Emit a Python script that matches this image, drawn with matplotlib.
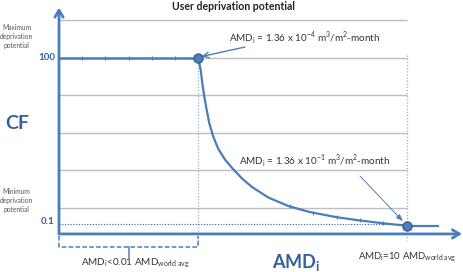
import numpy as np
import matplotlib
matplotlib.use("Agg")
import matplotlib.pyplot as plt

plt.rcParams['font.family'] = ['Lato', 'DejaVu Sans']
plt.rcParams['mathtext.fontset'] = 'custom'
plt.rcParams['mathtext.rm'] = 'Lato'

# ---- data (schematic units) ----
# plateau at maximum deprivation potential (CF = 100)
plateau_x = [0.0, 0.667, 1.333, 2.0, 2.667, 3.333, 4.0]
plateau_y = [4.0, 4.0, 4.0, 4.0, 4.0, 4.0, 4.0]
# decreasing part of the curve
curve_x = [4.0, 4.072, 4.118, 4.175, 4.244, 4.319, 4.434, 4.578, 4.770, 5.0, 5.259,
           5.546, 6.014, 6.589, 7.164, 7.644, 7.989, 8.649, 9.310, 10.0]
curve_y = [4.0, 3.670, 3.316, 2.960, 2.606, 2.253, 1.896, 1.569, 1.290, 1.037, 0.785,
           0.559, 0.279, 0.053, -0.098, -0.186, -0.247, -0.332, -0.407, -0.471]
tick_x = [6.64, 7.30, 7.99, 8.65, 9.31]
tick_y = [0.04, -0.13, -0.247, -0.332, -0.407]
# tail at minimum deprivation potential (CF = 0.1)
tail_x = [10.0, 10.89]
tail_y = [-0.471, -0.471]
# key points
key_x = [4.0, 10.0]
key_y = [4.0, -0.471]
grid_levels = [0, 1, 2, 3, 4, 5]
y_labels = ['100', '0.1']
y_label_pos = [4.0, -0.36]

BLUE = '#4A7EBB'
DBLUE = '#33609C'
DOT = '#8EB0DA'
GRID = '#BEBEBE'

fig = plt.figure(figsize=(4.63, 2.72), dpi=100)
ax = fig.add_axes([0, 0, 1, 1])
ax.set_xlim(-59/34.8, (463-59)/34.8)
ax.set_ylim((208-272)/37.6, 208/37.6)
ax.axis('off')

# gridlines
ax.hlines(grid_levels, 0, 10, colors=GRID, lw=1.0, zorder=1)

# dotted guides
ax.plot([4, 4], [4, -0.98], ls=(0, (1, 1.5)), color=DOT, lw=0.9, zorder=2)
ax.plot([10, 10], [4.07, -0.85], ls=(0, (1, 1.5)), color=DOT, lw=0.9, zorder=2)
ax.plot([0, 10], [-0.43, -0.43], ls=(0, (1, 1.5)), color=DBLUE, lw=0.8, zorder=2)

# axes with arrows
ax.annotate('', xy=(0, 5.33), xytext=(0, -0.69),
            arrowprops=dict(arrowstyle='->,head_length=0.5,head_width=0.3', color=BLUE, lw=2.0, shrinkA=0, shrinkB=0), zorder=3)
ax.annotate('', xy=(11.58, -0.69), xytext=(0, -0.69),
            arrowprops=dict(arrowstyle='->,head_length=0.5,head_width=0.3', color=BLUE, lw=2.0, shrinkA=0, shrinkB=0), zorder=3)

# curve
ax.plot(plateau_x, plateau_y, color=BLUE, lw=1.8, marker='|', ms=3, mew=0.8, zorder=4)
ax.plot(curve_x, curve_y, color=BLUE, lw=1.6, zorder=4, solid_joinstyle='round')
ax.plot(tick_x, tick_y, ls='none', color=BLUE, marker='|', ms=3, mew=0.8, zorder=4)
ax.plot(tail_x, tail_y, color=BLUE, lw=1.6, zorder=4)
ax.plot(key_x, key_y, ls='none', marker='o', ms=6.5, mfc='#4F81BD', mec='#385D8A', mew=1.0, zorder=5)

# bracket under x-axis
ax.plot([0, 0, 4, 4], [-0.745, -1.03, -1.03, -0.745], ls=(0, (3, 1.5)), color=BLUE, lw=1.1, zorder=3)
ax.plot([2.0, 2.0], [-1.03, -1.30], color=BLUE, lw=1.1, zorder=3)

# texts
ax.text(5.0, 5.36, 'User deprivation potential', ha='center', va='center', fontsize=7.6, fontweight='bold', color='#222222')
ax.text(-1.2, 2.24, 'CF', ha='center', va='center', fontsize=14, fontweight='bold', color=DBLUE)
ax.text(6.8, -1.585, r'AMD$_\mathregular{i}$', ha='center', va='baseline', fontsize=13, fontweight='bold', color=DBLUE)
for lab, yy in zip(y_labels, y_label_pos):
    ax.text(-0.12, yy, lab, ha='right', va='center', fontsize=7, fontweight='bold', color=DBLUE)
ax.text(-1.22, 4.56, 'Maximum\ndeprivation\npotential', ha='center', va='center', fontsize=4.8, color='#555555', linespacing=1.3)
ax.text(-1.22, 0.2, 'Minimum\ndeprivation\npotential', ha='center', va='center', fontsize=4.8, color='#555555', linespacing=1.3)

ax.text(4.89, 4.52, r'AMD$_\mathregular{i}$ = 1.36 x 10$^\mathregular{-4}$ m$^\mathregular{3}$/m$^\mathregular{2}$-month',
        ha='left', va='center', fontsize=7.1, color='#333333')
ax.annotate('', xy=(4.1, 4.03), xytext=(5.34, 4.28),
            arrowprops=dict(arrowstyle='->,head_length=0.4,head_width=0.2', color=BLUE, lw=1.0, shrinkA=0, shrinkB=0))
ax.text(5.17, 1.25, r'AMD$_\mathregular{i}$ = 1.36 x 10$^\mathregular{-1}$ m$^\mathregular{3}$/m$^\mathregular{2}$-month',
        ha='left', va='center', fontsize=7.1, color='#333333')
ax.annotate('', xy=(9.88, -0.35), xytext=(8.65, 0.85),
            arrowprops=dict(arrowstyle='-|>,head_length=0.4,head_width=0.15', color=BLUE, lw=0.7, shrinkA=0, shrinkB=0))

ax.text(2.2, -1.47, r'AMD$_\mathregular{i}$<0.01 AMD$_\mathregular{world\ avg}$', ha='center', va='center', fontsize=7.1, color='#333333')
ax.text(11.41, -1.31, r'AMD$_\mathregular{i}$=10 AMD$_\mathregular{world\ avg}$', ha='right', va='center', fontsize=6.9, color='#333333')

fig.savefig('out.png', dpi=100)
